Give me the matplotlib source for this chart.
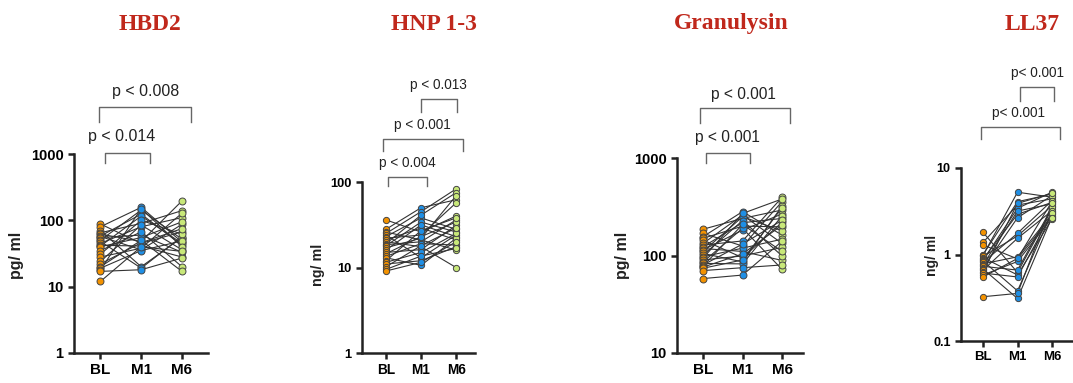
import numpy as np
import matplotlib
matplotlib.use('Agg')
import matplotlib.pyplot as plt

plt.rcParams['font.family'] = ['Liberation Sans', 'DejaVu Sans']
plt.rcParams['axes.linewidth'] = 1.8
plt.rcParams['xtick.direction'] = 'out'
plt.rcParams['ytick.direction'] = 'out'

# data
groups = ['BL', 'M1', 'M6']

hbd2_bl = [88, 80, 70, 65, 62, 58, 57, 55, 50, 48, 45, 42, 41, 40, 35, 31, 28, 24, 22, 20, 19, 18, 17, 12]
hbd2_m1 = [45, 157, 20, 90, 48, 124, 36, 60, 143, 19, 80, 41, 116, 55, 67, 100, 38, 85, 46, 50, 35, 150, 18, 40]
hbd2_m6 = [67, 47, 55, 140, 196, 42, 87, 33, 52, 57, 110, 28, 45, 95, 20, 62, 128, 36, 75, 17, 49, 40, 27, 34]

hnp_bl = [36, 28, 26, 25, 24, 23, 22, 21, 20, 19, 18.5, 18, 17, 16, 15, 14.5, 13.5, 13, 12, 11.5, 11, 10.2, 9.5, 9.1]
hnp_m1 = [26, 50, 21, 45, 13, 38, 24, 29, 17.5, 41, 20, 34, 22, 31.5, 16.2, 23, 19, 10.6, 27, 15, 12, 18, 13.6, 11.5]
hnp_m6 = [40, 62, 16, 83, 24, 28, 57, 21, 10, 75, 36, 26, 69, 23, 31, 34, 18.3, 22, 38, 25, 17.5, 29, 16.7, 20]

gran_bl = [186, 169, 156, 150, 144, 133, 128, 123, 118, 114, 110, 105, 101, 97, 94, 90, 86, 83, 80, 78, 76, 74, 70, 58]
gran_m1 = [240, 125, 282, 200, 95, 260, 141, 217, 110, 182, 250, 86, 228, 119, 270, 99, 190, 82, 131, 208, 104, 90, 75, 63]
gran_m6 = [293, 357, 162, 197, 219, 133, 395, 240, 89, 267, 179, 322, 99, 147, 380, 121, 72, 255, 230, 110, 205, 310, 80, 140]

ll37_bl = [1.8, 1.38, 1.29, 1.0, 0.98, 0.95, 0.92, 0.88, 0.86, 0.84, 0.81, 0.78, 0.76, 0.73, 0.70, 0.68, 0.66, 0.63, 0.61, 0.58, 0.55, 0.325]
ll37_m1 = [0.62, 3.73, 0.89, 4.08, 5.25, 1.64, 0.58, 2.92, 3.42, 0.38, 1.76, 0.94, 3.18, 0.66, 2.66, 0.31, 1.54, 3.9, 0.55, 0.83, 0.9, 0.355]
ll37_m6 = [3.35, 4.4, 2.8, 5.0, 4.6, 3.66, 2.57, 4.0, 5.25, 3.07, 4.2, 2.95, 3.85, 3.5, 4.8, 2.7, 3.2, 5.1, 3.0, 2.65, 4.1, 3.9]

colors = ['#F39200', '#1F8FE5', '#C8E879']
title_color = '#C0281C'

W, H = 1073, 383
fig = plt.figure(figsize=(W / 100, H / 100), dpi=100)


def panel(rect, xlim, ylim, yticks, data, ylabel, ylab_xy, title, title_xy,
          brackets, fs_tick, fs_p, ms):
    """rect: left, top, right, bottom in pixels"""
    l, t, r, b = rect
    ax = fig.add_axes([l / W, 1 - b / H, (r - l) / W, (b - t) / H])
    ax.set_yscale('log')
    ax.set_xlim(*xlim)
    ax.set_ylim(*ylim)
    ax.set_yticks(yticks)
    ax.set_yticklabels([('%g' % v) for v in yticks], fontweight='bold', fontsize=fs_tick)
    ax.yaxis.set_minor_locator(matplotlib.ticker.NullLocator())
    ax.set_xticks(range(3))
    ax.set_xticklabels(groups, fontweight='bold', fontsize=fs_tick + 0.5)
    ax.tick_params(axis='both', length=4.5, width=1.8, color='#222222', pad=3)
    for s in ['top', 'right']:
        ax.spines[s].set_visible(False)
    for s in ['left', 'bottom']:
        ax.spines[s].set_color('#222222')
    ax.patch.set_alpha(0)

    xs = np.arange(3)
    arr = np.array(data).T  # subjects x groups
    for row in arr:
        ax.plot(xs, row, color='#333333', lw=0.8, zorder=2, clip_on=False)
    for i in range(3):
        ax.plot(np.full(len(arr), xs[i]), arr[:, i], 'o', ms=ms, mfc=colors[i],
                mec='#444444', mew=0.7, zorder=3, clip_on=False)

    # brackets: x0, x1 (data), top px, drop px, text, text x (data), text y px
    tr = ax.get_xaxis_transform()
    for x0, x1, ytop, ybot, txt, tx, ty in brackets:
        yt = (b - ytop) / (b - t)
        yb = (b - ybot) / (b - t)
        ax.plot([x0, x0, x1, x1], [yb, yt, yt, yb], color='#666666', lw=1.0,
                transform=tr, clip_on=False)
        ax.text(tx, (b - ty) / (b - t), txt, transform=tr, ha='center', va='center',
                fontsize=fs_p, color='#222222')

    fig.text(ylab_xy[0] / W, 1 - ylab_xy[1] / H, ylabel, rotation=90, ha='center',
             va='center', fontsize=fs_tick + 1, fontweight='bold', color='#222222')
    fig.text(title_xy[0] / W, 1 - title_xy[1] / H, title, ha='center', va='center',
             fontsize=17, fontweight='bold', color=title_color, family='Liberation Serif')
    return ax


panel((74, 154, 208, 353), (-0.65, 2.64), (1, 1000), [1, 10, 100, 1000],
      [hbd2_bl, hbd2_m1, hbd2_m6], 'pg/ ml', (17, 255), 'HBD2', (150, 24),
      [(-0.03, 2.22, 107, 122, 'p < 0.008', 1.1, 92),
       (0.11, 1.21, 153, 163, 'p < 0.014', 0.52, 137)],
      10.5, 11.5, 5.0)

panel((362, 182, 475, 353), (-0.686, 2.54), (1, 100), [1, 10, 100],
      [hnp_bl, hnp_m1, hnp_m6], 'ng/ ml', (318, 265), 'HNP 1-3', (434, 24),
      [(1.0, 2.03, 99, 112, 'p < 0.013', 1.51, 85),
       (-0.09, 2.2, 139, 151, 'p < 0.001', 1.03, 125),
       (0.06, 1.17, 177, 186, 'p < 0.004', 0.6, 163)],
      9.3, 9.8, 4.5)

panel((677, 158, 803, 353), (-0.66, 2.53), (10, 1000), [10, 100, 1000],
      [gran_bl, gran_m1, gran_m6], 'pg/ ml', (622, 255), 'Granulysin', (731, 23),
      [(-0.08, 2.2, 108, 123, 'p < 0.001', 1.03, 94),
       (0.07, 1.18, 153, 163, 'p < 0.001', 0.61, 137)],
      10.5, 11.2, 5.0)

panel((961, 168, 1073, 341), (-0.64, 2.61), (0.1, 10), [0.1, 1, 10],
      [ll37_bl, ll37_m1, ll37_m6], 'ng/ ml', (932, 255), 'LL37', (1032, 24),
      [(1.06, 2.06, 87, 101, 'p< 0.001', 1.57, 73),
       (-0.06, 2.23, 127, 139, 'p< 0.001', 1.04, 113)],
      9.0, 9.8, 4.5)

plt.savefig('out.png', dpi=100, facecolor='w')
